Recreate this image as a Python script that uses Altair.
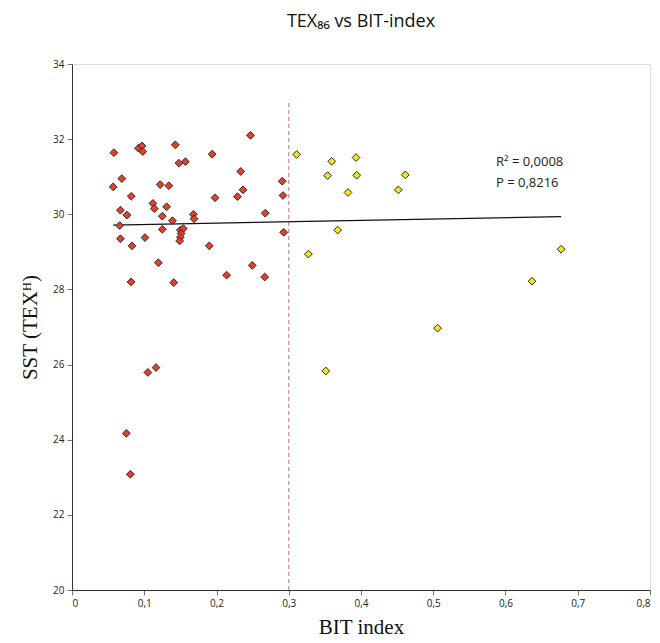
import altair as alt
import pandas as pd

# red points (BIT < 0.3)
red_bit = [0.058, 0.092, 0.097, 0.098, 0.143, 0.148, 0.157, 0.194, 0.247,
           0.069, 0.057, 0.082, 0.067, 0.076, 0.066, 0.122, 0.134, 0.112,
           0.114, 0.131, 0.125, 0.139, 0.125, 0.198, 0.2335, 0.2367, 0.229,
           0.168, 0.169, 0.2675, 0.291, 0.292, 0.293,
           0.150, 0.154, 0.151, 0.150, 0.149,
           0.067, 0.101, 0.083, 0.190,
           0.1195, 0.0817, 0.1408, 0.2495, 0.214, 0.2667,
           0.1163, 0.105, 0.0752, 0.0808]
red_sst = [31.64, 31.76, 31.82, 31.67, 31.85, 31.36, 31.40, 31.60, 32.10,
           30.95, 30.73, 30.48, 30.11, 29.98, 29.70, 30.79, 30.76, 30.29,
           30.15, 30.20, 29.95, 29.83, 29.60, 30.44, 31.14, 30.65, 30.47,
           30.00, 29.88, 30.03, 30.88, 30.50, 29.52,
           29.58, 29.62, 29.49, 29.39, 29.29,
           29.35, 29.38, 29.16, 29.16,
           28.71, 28.20, 28.18, 28.64, 28.38, 28.33,
           25.92, 25.79, 24.17, 23.08]

# yellow points (BIT > 0.3)
yel_bit = [0.311, 0.3594, 0.3931, 0.3538, 0.394, 0.4613, 0.382, 0.4517,
           0.3677, 0.677, 0.3272, 0.6367, 0.506, 0.3513]
yel_sst = [31.59, 31.41, 31.51, 31.03, 31.04, 31.05, 30.58, 30.65,
           29.58, 29.07, 28.94, 28.22, 26.97, 25.83]

fit_x = [0.057, 0.677]
fit_y = [29.71, 29.94]

cutoff_x = [0.3, 0.3]
cutoff_y = [20, 33]

stats_text = ["R² = 0,0008", "P = 0,8216"]

pts = pd.DataFrame({
    "bit": red_bit + yel_bit,
    "sst": red_sst + yel_sst,
    "grp": ["red"] * len(red_bit) + ["yellow"] * len(yel_bit),
})
fit = pd.DataFrame({"bit": fit_x, "sst": fit_y})
cut = pd.DataFrame({"bit": cutoff_x, "sst": cutoff_y})

xscale = alt.Scale(domain=[0, 0.8], nice=False, zero=False)
yscale = alt.Scale(domain=[20, 34], nice=False, zero=False)

xaxis = alt.Axis(
    title="BIT index", values=[0, 0.1, 0.2, 0.3, 0.4, 0.5, 0.6, 0.7, 0.8],
    labelExpr="replace(format(datum.value, '.1~f'), '.', ',')",
    grid=False, domainColor="#333", tickColor="#777", tickSize=5,
    labelFont="Open Sans", labelFontSize=10, labelColor="#222", labelPadding=3,
    titleFont="Liberation Serif", titleFontSize=21, titleFontWeight="normal",
    titleColor="#111", titlePadding=8,
)
yaxis = alt.Axis(
    title="SST (TEXᴴ)", values=list(range(20, 35, 2)),
    grid=False, domainColor="#333", tickColor="#777", tickSize=5,
    labelFont="Open Sans", labelFontSize=10, labelColor="#222", labelPadding=3,
    titleFont="Liberation Serif", titleFontSize=21, titleFontWeight="normal",
    titleColor="#111", titlePadding=12,
)

points = alt.Chart(pts).mark_point(
    shape="diamond", filled=True, size=60, stroke="#2a2a2a", strokeWidth=1, opacity=1
).encode(
    x=alt.X("bit:Q", scale=xscale, axis=xaxis),
    y=alt.Y("sst:Q", scale=yscale, axis=yaxis),
    fill=alt.Fill("grp:N", scale=alt.Scale(domain=["red", "yellow"],
                                            range=["#e5412a", "#f3e612"]), legend=None),
)

fitline = alt.Chart(fit).mark_line(color="#111", strokeWidth=1.2).encode(
    x=alt.X("bit:Q", scale=xscale), y=alt.Y("sst:Q", scale=yscale)
)

cutline = alt.Chart(cut).mark_line(color="#c98a8a", strokeWidth=1.2,
                                   strokeDash=[4, 3]).encode(
    x=alt.X("bit:Q", scale=xscale), y=alt.Y("sst:Q", scale=yscale)
)

r2_label = alt.Chart(pd.DataFrame({"t": [stats_text[0]]})).mark_text(
    align="left", baseline="middle", font="Open Sans", fontSize=13, color="#222"
).encode(text="t:N", x=alt.value(424), y=alt.value(98))

p_label = alt.Chart(pd.DataFrame({"t": [stats_text[1]]})).mark_text(
    align="left", baseline="middle", font="Open Sans", fontSize=13, color="#222"
).encode(text="t:N", x=alt.value(424), y=alt.value(119))

chart = alt.layer(cutline, fitline, points, r2_label, p_label).properties(
    width=578, height=526,
    title=alt.TitleParams("TEX₈₆ vs BIT-index", font="Open Sans", fontSize=18,
                          fontWeight="normal", color="#111", offset=28, anchor="middle"),
    autosize=alt.AutoSizeParams(type="none"),
    padding={"left": 72, "top": 64, "right": 10, "bottom": 53},
).configure_view(stroke="#444", strokeWidth=1).configure(background="white")

chart.save("out.html", embed_options={"renderer": "svg", "actions": False})
